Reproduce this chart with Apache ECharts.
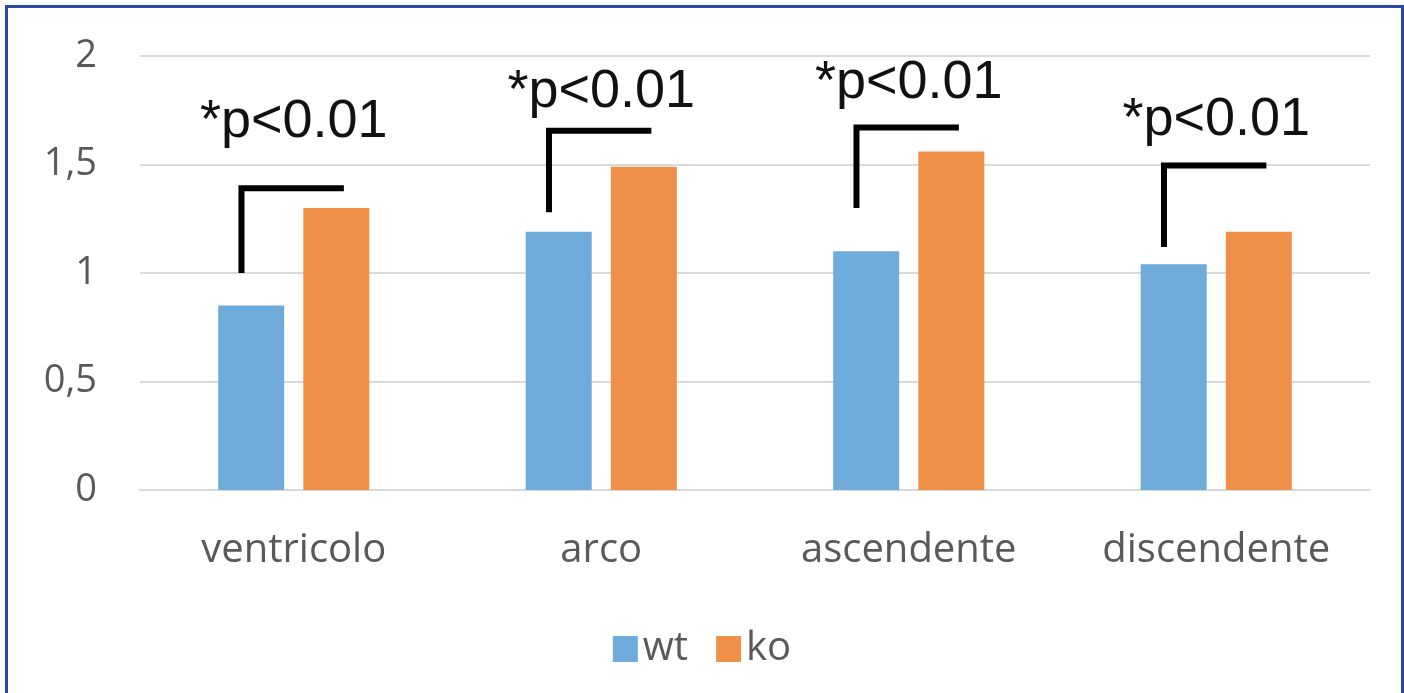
<!DOCTYPE html>
<html>
<head>
<meta charset="utf-8">
<script src="https://cdn.jsdelivr.net/npm/echarts@6/dist/echarts.min.js"></script>
<style>
	html, body {margin: 0; padding: 0; background: #fff;}
	#chart {position: absolute; left: 0; top: 0; width: 1404px; height: 693px;}
	#frame {
		position: absolute; left: 5px; top: 5px; width: 1393px; height: 700px;
		border: 3px solid #2d4aa3; border-bottom: none; pointer-events: none;
	}
</style>
</head>
<body>
<div id="chart"></div>
<div id="frame"></div>
<script>
const categories = ['ventricolo', 'arco', 'ascendente', 'discendente'];
const wtValues = [0.85, 1.19, 1.1, 1.04];
const koValues = [1.3, 1.49, 1.56, 1.19];
const yTicks = [0, 0.5, 1, 1.5, 2];
// significance brackets: bottom / top of bracket and where the label sits
const bracketLow = [1.0, 1.28, 1.3, 1.12];
const bracketHigh = [1.39, 1.655, 1.67, 1.495];
const labelAt = [1.57, 1.71, 1.75, 1.58];
const sigText = '*p<0.01';

const chart = echarts.init(document.getElementById('chart'));

const textGray = '#595959';
const gridGray = '#d9d9d9';

chart.setOption({
	animation: false,
	grid: {left: 140, right: 34, top: 56, bottom: 203},
	legend: {
		bottom: 19,
		left: 'center',
		itemWidth: 25,
		itemHeight: 26,
		itemGap: 28,
		icon: 'rect',
		textStyle: {fontFamily: 'Open Sans', fontSize: 40, color: textGray}
	},
	xAxis: {
		type: 'category',
		data: categories,
		axisTick: {show: false},
		axisLine: {lineStyle: {color: gridGray, width: 2}},
		axisLabel: {fontFamily: 'Open Sans', fontSize: 40, color: textGray, margin: 41}
	},
	yAxis: {
		type: 'value',
		min: yTicks[0],
		max: yTicks[yTicks.length - 1],
		interval: 0.5,
		axisLine: {show: false},
		axisTick: {show: false},
		splitLine: {lineStyle: {color: gridGray, width: 2}},
		axisLabel: {
			fontFamily: 'Open Sans', fontSize: 38, color: textGray, margin: 43,
			formatter: v => String(v).replace('.', ',')
		}
	},
	series: [
		{
			name: 'wt', type: 'bar', data: wtValues,
			barWidth: 66, barGap: '29%',
			itemStyle: {color: '#6facdb'}
		},
		{
			name: 'ko', type: 'bar', data: koValues,
			barWidth: 66,
			itemStyle: {color: '#ef8f48'}
		},
		{
			type: 'custom',
			silent: true,
			z: 10,
			data: categories.map((c, i) => [i, bracketLow[i], bracketHigh[i], labelAt[i]]),
			renderItem: (params, api) => {
				const i = api.value(0);
				const band = api.size([1, 0])[0];
				const low = api.coord([i, api.value(1)]);
				const high = api.coord([i, api.value(2)]);
				const lbl = api.coord([i, api.value(3)]);
				const cx = low[0];
				const xl = cx - band * 0.17;
				const xr = cx + band * 0.163;
				return {
					type: 'group',
					children: [
						{
							type: 'polyline',
							shape: {points: [[xl, low[1]], [xl, high[1]], [xr, high[1]]]},
							style: {stroke: '#000', lineWidth: 6, fill: null, lineJoin: 'miter'}
						},
						{
							type: 'text',
							x: cx, y: lbl[1],
							style: {
								text: sigText,
								fontFamily: 'Liberation Sans, Arial',
								fontSize: 54,
								fill: '#111',
								align: 'center',
								verticalAlign: 'bottom'
							}
						}
					]
				};
			}
		}
	]
});
</script>
</body>
</html>
